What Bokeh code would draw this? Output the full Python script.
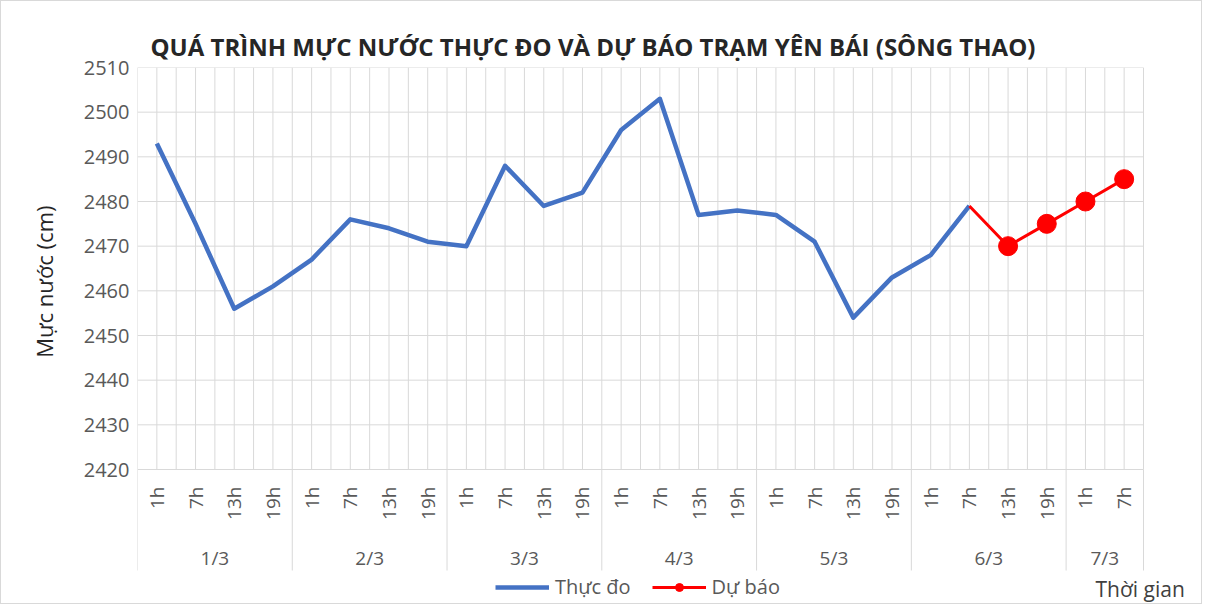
import math
from bokeh.plotting import figure
from bokeh.models import Range1d, Legend, LegendItem, Label, FixedTicker, Title
from bokeh.embed import file_html
from bokeh.resources import INLINE

# ---- data ----
days = ["1/3", "2/3", "3/3", "4/3", "5/3", "6/3", "7/3"]
hours = [["1h", "7h", "13h", "19h"]] * 6 + [["1h", "7h"]]
observed = [2493, 2475, 2456, 2461,
            2467, 2476, 2474, 2471,
            2470, 2488, 2479, 2482,
            2496, 2503, 2477, 2478,
            2477, 2471, 2454, 2463,
            2468, 2479]
forecast = [2479, 2470, 2475, 2480, 2485]
y_ticks = [2420, 2430, 2440, 2450, 2460, 2470, 2480, 2490, 2500, 2510]

# category positions (one unit per category, centred on i + 0.5)
factors = [(d, h) for d, hs in zip(days, hours) for h in hs]
n = len(factors)
centers = [i + 0.5 for i in range(n)]
obs_x = centers[:len(observed)]
fc_x = centers[len(observed) - 1:len(observed) - 1 + len(forecast)]
bounds = [0]
for hs in hours:
    bounds.append(bounds[-1] + len(hs))
group_mid = [(a + b) / 2 for a, b in zip(bounds[:-1], bounds[1:])]

FONT = "Open Sans"
GREY = "#595959"
GRID = "#d9d9d9"

# layout: plot area 1006 px for the categories, 402 px for 2420..2510
W, H = 1202, 604
LEFT, TOP = 136, 66
cat_px = 1006 / n
unit_px = 402 / (y_ticks[-1] - y_ticks[0])
x_end = (W - LEFT) / cat_px
y_start = y_ticks[-1] - (H - TOP) / unit_px

def ypix(py):  # page pixel row -> data value (for annotation text only)
    return y_ticks[-1] - (py - (TOP + 1)) / unit_px

p = figure(x_range=Range1d(0, x_end), y_range=Range1d(y_start, y_ticks[-1]),
           width=W, height=H, output_backend="svg", toolbar_location=None,
           x_axis_location=None,
           min_border_left=LEFT, min_border_right=0,
           min_border_top=TOP, min_border_bottom=0)
p.styles = {"border": "1px solid #d9d9d9"}
p.outline_line_color = None
p.xgrid.grid_line_color = None
p.ygrid.grid_line_color = None

# grid lines (plot area only)
gx = [i * 0.5 for i in range(2 * n + 1)]
p.segment(x0=gx, x1=gx, y0=[y_ticks[0]] * len(gx), y1=[y_ticks[-1]] * len(gx),
          line_color=GRID, line_width=1)
p.segment(x0=[0] * len(y_ticks), x1=[n] * len(y_ticks), y0=y_ticks, y1=y_ticks,
          line_color=GRID, line_width=1)

# category axis: separators, hour labels, day labels
p.segment(x0=bounds, x1=bounds, y0=[y_ticks[0]] * len(bounds),
          y1=[ypix(570)] * len(bounds), line_color=GRID, line_width=1)
p.text(x=centers, y=[ypix(486)] * n, text=[f[1] for f in factors],
       angle=math.pi / 2, text_align="right", text_baseline="middle",
       text_font={"value": FONT}, text_font_size="19px", text_color=GREY)
p.text(x=group_mid, y=[ypix(557)] * len(days), text=days,
       text_align="center", text_baseline="middle",
       text_font={"value": FONT}, text_font_size="19px", text_color=GREY)

# series
r_obs = p.line(x=obs_x, y=observed, line_color="#4472C4", line_width=4.5,
               line_join="round")
r_fc = p.line(x=fc_x, y=forecast, line_color="#FF0000", line_width=3)
r_fcm = p.scatter(x=fc_x[1:], y=forecast[1:], size=19, marker="circle",
                  fill_color="#FF0000", line_color="#FF0000")

# title
p.title.text = "QUÁ TRÌNH MỰC NƯỚC THỰC ĐO VÀ DỰ BÁO TRẠM YÊN BÁI (SÔNG THAO)"
p.title.text_font = FONT
p.title.text_font_size = "24px"
p.title.text_font_style = "bold"
p.title.text_color = "#262626"
p.title.align = "left"
p.title.offset = 13

# y axis
ya = p.yaxis[0]
ya.ticker = FixedTicker(ticks=y_ticks)
ya.major_label_text_font = FONT
ya.major_label_text_font_size = "20px"
ya.major_label_text_color = GREY
ya.major_label_standoff = 2
ya.axis_line_color = None
ya.major_tick_line_color = None
ya.minor_tick_line_color = None

# y axis title, aligned with the value part of the plot
p.add_layout(Title(text="Mực nước (cm)", align="right", offset=138,
                   text_font=FONT, text_font_size="22px",
                   text_font_style="normal", text_color="#262626",
                   standoff=43), "left")

legend = Legend(items=[LegendItem(label="Thực đo", renderers=[r_obs]),
                       LegendItem(label="Dự báo", renderers=[r_fc, r_fcm])],
                orientation="horizontal", location=(358, 5),
                label_text_font=FONT, label_text_font_size="20px",
                label_text_color=GREY, glyph_width=54, glyph_height=20,
                label_standoff=6, spacing=21, padding=0, margin=0,
                border_line_color=None, background_fill_alpha=0)
p.add_layout(legend, "center")

p.add_layout(Label(x=958, y=17, x_units="screen", y_units="screen",
                   text="Thời gian", text_font=FONT, text_font_size="21px",
                   text_color="#404040", text_baseline="middle"))

open("out.html", "w").write(file_html(p, INLINE))
